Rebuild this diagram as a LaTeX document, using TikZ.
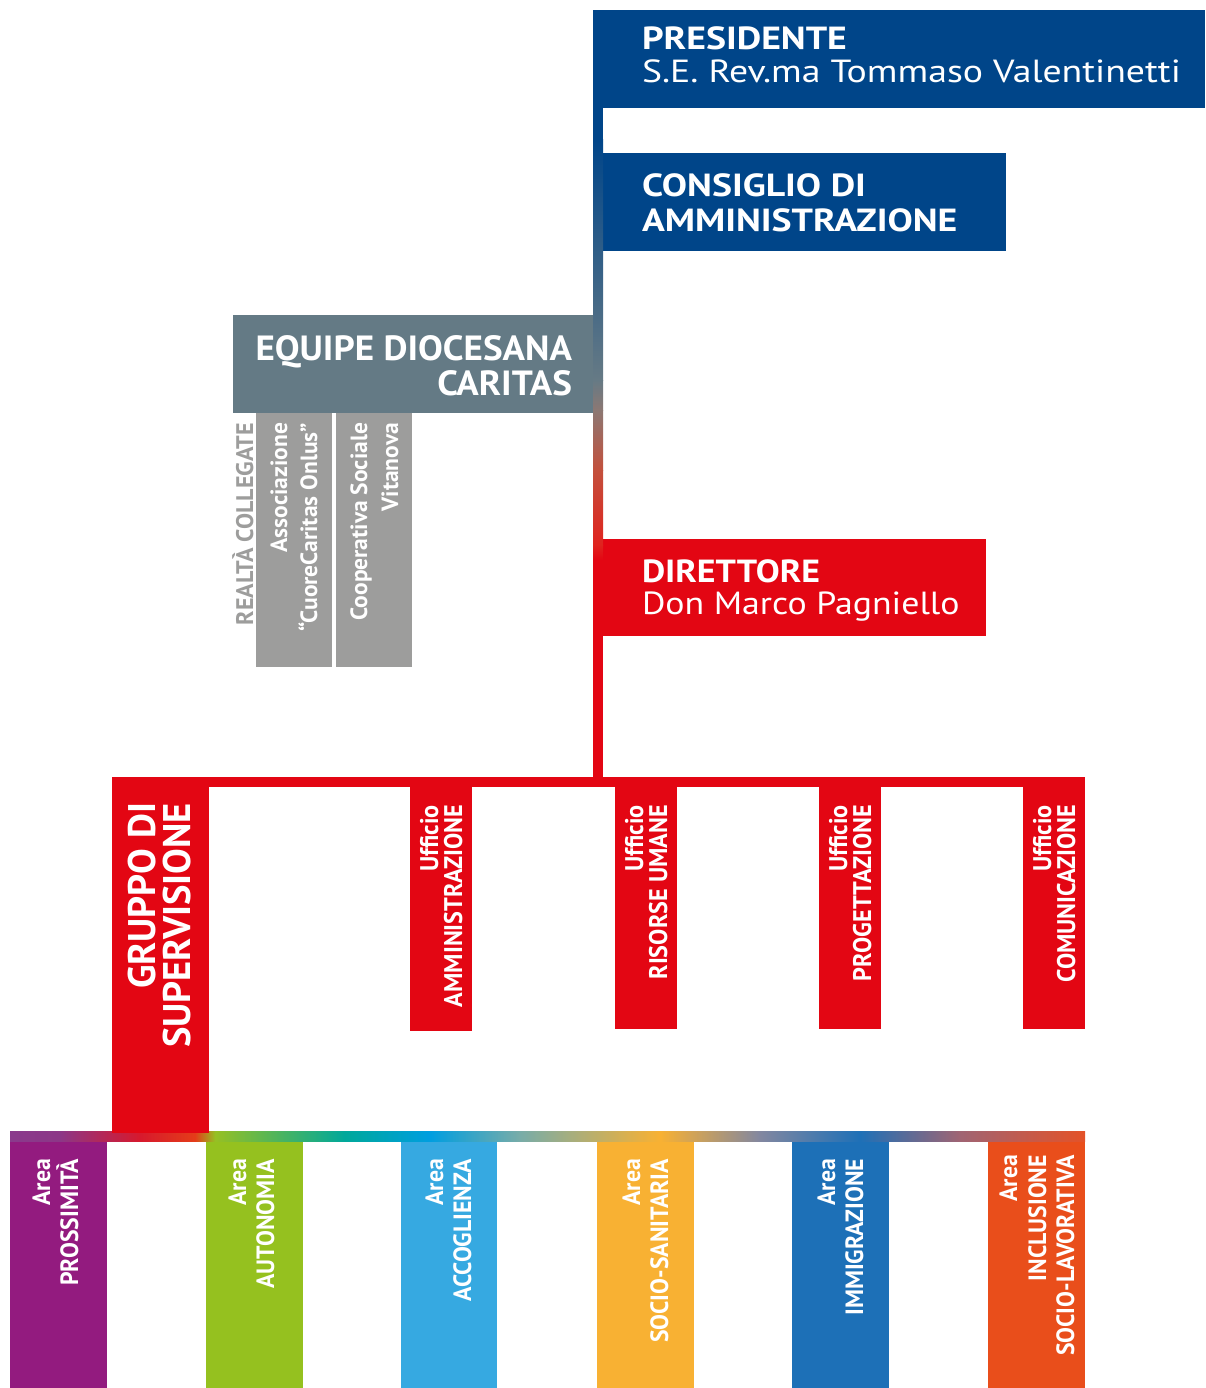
\documentclass[tikz,border=0pt]{standalone}
\usepackage{fontspec}
\setmainfont{PT Sans}
\newfontfamily\bfont{PT Sans}[FakeStretch=1.18]
\newfontfamily\wfont{PT Sans}[FakeStretch=1.12]
\newfontfamily\efont{PT Sans}[FakeStretch=1.06]
\newfontfamily\nfont{PT Sans}[FakeStretch=0.95]
\definecolor{cblue}{RGB}{0,69,137}
\definecolor{slate}{RGB}{100,122,133}
\definecolor{grayc}{RGB}{157,157,156}
\definecolor{cred}{RGB}{227,6,19}
\definecolor{apurple}{RGB}{147,27,127}
\definecolor{agreen}{RGB}{149,193,31}
\definecolor{alblue}{RGB}{54,169,225}
\definecolor{aorange}{RGB}{248,177,51}
\definecolor{ablue}{RGB}{29,112,183}
\definecolor{ared}{RGB}{233,78,27}
% vertical bar stops
\definecolor{v1}{RGB}{102,122,133}
\definecolor{v2}{RGB}{140,120,115}
\definecolor{v3}{RGB}{195,80,60}
\definecolor{v4}{RGB}{224,35,30}
% rainbow stops
\definecolor{r1}{RGB}{138,58,140}
\definecolor{r2}{RGB}{140,55,135}
\definecolor{r3}{RGB}{215,25,45}
\definecolor{r4}{RGB}{228,60,25}
\definecolor{r5}{RGB}{150,192,35}
\definecolor{r6}{RGB}{0,168,155}
\definecolor{r7}{RGB}{0,158,224}
\definecolor{r8}{RGB}{120,172,168}
\definecolor{r9}{RGB}{248,177,51}
\definecolor{r10}{RGB}{130,135,160}
\definecolor{r11}{RGB}{30,112,183}
\definecolor{r12}{RGB}{160,100,115}
\definecolor{r13}{RGB}{228,82,40}
\begin{document}
\begin{tikzpicture}[x=1pt,y=-1pt,
  blk/.style={draw=none, inner sep=0pt, outer sep=0pt, anchor=north west},
  lbl/.style={inner sep=0pt, outer sep=0pt, text=white},
  blueb/.style={lbl, anchor=base west, font=\bfont\bfseries\fontsize{32}{32}\selectfont},
  bluer/.style={lbl, anchor=base west, font=\bfont\fontsize{32}{32}\selectfont},
  topb/.style={lbl, anchor=base west, font=\wfont\bfseries\fontsize{32}{32}\selectfont},
  topr/.style={lbl, anchor=base west, font=\wfont\fontsize{32}{32}\selectfont},
  eqb/.style={lbl, anchor=base east, font=\efont\bfseries\fontsize{35}{35}\selectfont},
  rot/.style={lbl, rotate=90, anchor=base east},
  areatxt/.style={rot, font=\nfont\bfseries\fontsize{25}{25}\selectfont},
  offtxt/.style={rot, font=\nfont\bfseries\fontsize{25.5}{25.5}\selectfont},
  grtxt/.style={rot, font=\bfseries\fontsize{38.5}{38.5}\selectfont},
  graytxt/.style={rot, font=\bfseries\fontsize{23.5}{23.5}\selectfont}]
\useasboundingbox (0,0) rectangle (1205,1388);

% ---- boxes (nodes)
\node[blk, fill=cblue, minimum width=612pt, minimum height=98pt] (pres) at (593,10) {};
\node[blk, fill=cblue, minimum width=403pt, minimum height=98pt] (cons) at (603,153) {};
\node[blk, fill=slate, minimum width=360pt, minimum height=98pt] (equipe) at (233,315) {};
\node[blk, fill=grayc, minimum width=76pt, minimum height=254pt] (assoc) at (256,413) {};
\node[blk, fill=grayc, minimum width=76pt, minimum height=254pt] (coop) at (336,413) {};
\node[blk, fill=cred, minimum width=383pt, minimum height=97pt] (dir) at (603,539) {};
\node[blk, fill=cred, minimum width=97pt, minimum height=356pt] (gruppo) at (112,777) {};
\node[blk, fill=cred, minimum width=62pt, minimum height=244pt] (uamm) at (410,787) {};
\node[blk, fill=cred, minimum width=62pt, minimum height=242pt] (uris) at (615,787) {};
\node[blk, fill=cred, minimum width=62pt, minimum height=242pt] (uprog) at (819,787) {};
\node[blk, fill=cred, minimum width=62pt, minimum height=242pt] (ucom) at (1023,787) {};
\node[blk, fill=apurple, minimum width=97pt, minimum height=247pt] (aprox) at (10,1141) {};
\node[blk, fill=agreen, minimum width=97pt, minimum height=247pt] (aauto) at (206,1141) {};
\node[blk, fill=alblue, minimum width=96pt, minimum height=247pt] (aacc) at (401,1141) {};
\node[blk, fill=aorange, minimum width=97pt, minimum height=247pt] (asoc) at (597,1141) {};
\node[blk, fill=ablue, minimum width=97pt, minimum height=247pt] (aimm) at (792,1141) {};
\node[blk, fill=ared, minimum width=97pt, minimum height=247pt] (aincl) at (988,1141) {};

% ---- vertical connector (gradient bar)
\fill[cblue] (pres.north west) rectangle (603,140);
\shade[top color=cblue, bottom color=v1] (593,140) rectangle (603,380);
\shade[top color=v1, bottom color=v2] (593,380) rectangle (603,410);
\shade[top color=v2, bottom color=v3] (593,410) rectangle (603,470);
\shade[top color=v3, bottom color=v4] (593,470) rectangle (603,545);
\shade[top color=v4, bottom color=cred] (593,545) rectangle (603,560);
\fill[cred] (593,560) rectangle (dir.west |- gruppo.north);

% ---- horizontal connector to the offices
\fill[cred] (gruppo.north west) rectangle (ucom.north east);

% ---- rainbow connector to the areas
\shade[left color=r1, right color=r2] (10,1131) rectangle (60,1141);
\shade[left color=r2, right color=r3] (60,1131) rectangle (140,1141);
\shade[left color=r3, right color=r4] (140,1131) rectangle (195,1141);
\shade[left color=r4, right color=r5] (195,1131) rectangle (215,1141);
\shade[left color=r5, right color=r6] (215,1131) rectangle (345,1141);
\shade[left color=r6, right color=r7] (345,1131) rectangle (430,1141);
\shade[left color=r7, right color=r8] (430,1131) rectangle (520,1141);
\shade[left color=r8, right color=r9] (520,1131) rectangle (660,1141);
\shade[left color=r9, right color=r10] (660,1131) rectangle (760,1141);
\shade[left color=r10, right color=r11] (760,1131) rectangle (860,1141);
\shade[left color=r11, right color=r12] (860,1131) rectangle (960,1141);
\shade[left color=r12, right color=r13] (960,1131) rectangle (aincl.north east);
\fill[cred] (gruppo.north west) rectangle (209,1133);

% ---- texts of the top boxes
\node[blueb] (t1) at (642,50) {PRESIDENTE};
\node[bluer] (t2) at (642,83) {S.E. Rev.ma Tommaso Valentinetti};
\node[blueb] (t3) at (642,197) {CONSIGLIO DI};
\node[blueb] (t4) at (642,232) {AMMINISTRAZIONE};
\node[eqb] (t5) at (572,360) {EQUIPE DIOCESANA};
\node[eqb] (t6) at (572,395) {CARITAS};
\node[topb] (t7) at (642,582) {DIRETTORE};
\node[topr] (t8) at (642,614) {Don Marco Pagniello};

% ---- grey related bodies
\node[graytxt, text=grayc, font=\bfseries\fontsize{24}{24}\selectfont] (t9) at (253,423) {REALTÀ COLLEGATE};
\node[graytxt] (t10) at (287,423) {Associazione};
\node[graytxt] (t11) at (317,423) {“CuoreCaritas Onlus”};
\node[graytxt] (t12) at (367,423) {Cooperativa Sociale};
\node[graytxt] (t13) at (398,423) {Vitanova};

% ---- gruppo
\node[grtxt] (t14) at (155,803) {GRUPPO DI};
\node[grtxt] (t15) at (190,803) {SUPERVISIONE};

% ---- offices
\node[offtxt] (u1) at (438,805) {Ufficio};
\node[offtxt] (u2) at (462,805) {AMMINISTRAZIONE};
\node[offtxt] (u3) at (643,805) {Ufficio};
\node[offtxt] (u4) at (667,805) {RISORSE UMANE};
\node[offtxt] (u5) at (847,805) {Ufficio};
\node[offtxt] (u6) at (871,805) {PROGETTAZIONE};
\node[offtxt] (u7) at (1051,805) {Ufficio};
\node[offtxt] (u8) at (1075,805) {COMUNICAZIONE};

% ---- areas
\node[areatxt] (a1) at (50,1159) {Area};
\node[areatxt] (a2) at (78,1159) {PROSSIMITÀ};
\node[areatxt] (a3) at (246,1159) {Area};
\node[areatxt] (a4) at (274,1159) {AUTONOMIA};
\node[areatxt] (a5) at (443,1159) {Area};
\node[areatxt] (a6) at (471,1159) {ACCOGLIENZA};
\node[areatxt] (a7) at (640,1159) {Area};
\node[areatxt] (a8) at (668,1159) {SOCIO-SANITARIA};
\node[areatxt] (a9) at (835,1159) {Area};
\node[areatxt] (a10) at (863,1159) {IMMIGRAZIONE};
\node[areatxt] (a11) at (1017,1155) {Area};
\node[areatxt] (a12) at (1046,1155) {INCLUSIONE};
\node[areatxt] (a13) at (1074,1155) {SOCIO-LAVORATIVA};
\end{tikzpicture}
\end{document}
